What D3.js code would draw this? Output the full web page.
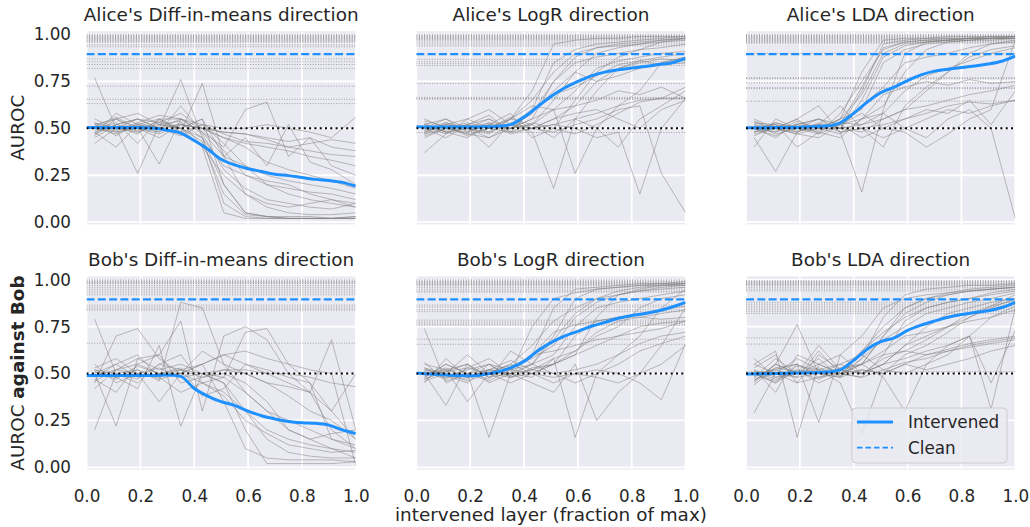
<!DOCTYPE html>
<html>
<head>
<meta charset="utf-8">
<script src="https://cdn.jsdelivr.net/npm/d3@7"></script>
<style>
body{margin:0;background:#fff;}
text{font-family:"DejaVu Sans",sans-serif;fill:#262626;}
</style>
</head>
<body>
<main></main>
<script>
// panel titles, row by row
const titles=["Alice's Diff-in-means direction","Alice's LogR direction","Alice's LDA direction",
              "Bob's Diff-in-means direction","Bob's LogR direction","Bob's LDA direction"];
const xTicks=[0,0.2,0.4,0.6,0.8,1.0];
const yTicks=[0,0.25,0.5,0.75,1.0];
const chance=0.5;
const cleanMean=0.896;

// layer positions (fraction of max) for the single runs and for the mean curve
const runX=[0.03,0.11,0.19,0.27,0.35,0.43,0.51,0.59,0.67,0.75,0.83,0.91,1.0];
const meanX=[0,0.05,0.1,0.15,0.2,0.25,0.3,0.35,0.4,0.45,0.5,0.55,0.6,0.65,0.7,0.75,0.8,0.85,0.9,0.95,1.0];

// Alice, diff-in-means
const aliceDimRuns=[
  [.77,.50,.48,.52,.50,.55,.20,.05,.03,.02,.02,.02,.03],
  [.45,.52,.55,.50,.76,.45,.10,.03,.02,.02,.02,.02,.02],
  [.50,.48,.52,.55,.48,.74,.35,.15,.08,.05,.04,.04,.05],
  [.52,.55,.50,.45,.52,.50,.45,.42,.40,.38,.35,.33,.30],
  [.48,.40,.52,.50,.55,.50,.48,.47,.45,.43,.45,.40,.38],
  [.50,.53,.42,.55,.55,.52,.50,.50,.52,.50,.48,.45,.56],
  [.55,.50,.26,.52,.50,.45,.30,.25,.22,.20,.15,.12,.10],
  [.47,.58,.52,.48,.62,.48,.40,.60,.64,.35,.45,.30,.25],
  [.42,.50,.55,.53,.50,.40,.25,.15,.10,.08,.10,.12,.08],
  [.52,.48,.50,.31,.55,.47,.28,.18,.12,.10,.08,.07,.10],
  [.50,.55,.58,.52,.54,.40,.05,.02,.02,.02,.02,.02,.02],
  [.49,.51,.47,.55,.50,.55,.35,.30,.25,.22,.20,.18,.15],
  [.53,.46,.53,.57,.55,.48,.35,.45,.30,.52,.32,.28,.20],
  [.46,.55,.48,.53,.58,.50,.45,.40,.32,.28,.25,.22,.18],
  [.51,.49,.53,.50,.52,.50,.48,.47,.44,.40,.42,.44,.42],
  [.48,.52,.50,.48,.53,.45,.20,.05,.03,.03,.03,.02,.03],
  [.50,.47,.52,.50,.46,.52,.42,.30,.20,.15,.12,.10,.08],
  [.53,.50,.49,.54,.50,.43,.15,.04,.03,.02,.02,.02,.02],
  [.47,.52,.55,.50,.48,.52,.47,.43,.42,.40,.38,.36,.35],
  [.51,.56,.50,.47,.52,.50,.38,.25,.20,.18,.16,.15,.12]
];
const aliceDimMean=[.505,.505,.505,.505,.505,.50,.49,.475,.435,.39,.335,.305,.285,.27,.255,.248,.238,.228,.222,.212,.192];
const aliceDimClean=[1.0,.995,.99,.985,.98,.975,.97,.965,.96,.945,.935,.87,.855,.84,.82,.725,.655,.632];

// Alice, logistic regression
const aliceLogrRuns=[
  [.52,.48,.50,.47,.55,.70,.95,.97,.98,.98,.99,.99,.99],
  [.45,.50,.53,.50,.48,.60,.85,.92,.95,.96,.97,.98,.99],
  [.37,.47,.52,.55,.50,.52,.65,.80,.90,.93,.95,.96,.97],
  [.50,.55,.48,.52,.58,.45,.50,.65,.80,.88,.92,.96,.98],
  [.48,.52,.55,.60,.52,.58,.75,.85,.88,.90,.92,.93,.95],
  [.55,.50,.47,.45,.52,.48,.18,.55,.70,.82,.86,.88,.90],
  [.50,.45,.52,.50,.55,.62,.60,.26,.50,.62,.70,.85,.88],
  [.47,.53,.50,.55,.48,.50,.55,.58,.60,.55,.50,.60,.65],
  [.53,.48,.45,.52,.50,.55,.60,.62,.65,.70,.68,.72,.66],
  [.49,.52,.50,.40,.53,.50,.52,.50,.45,.48,.15,.50,.66],
  [.51,.47,.55,.50,.56,.50,.48,.52,.55,.60,.62,.26,.05],
  [.46,.50,.48,.53,.50,.58,.70,.80,.75,.78,.82,.85,.88],
  [.52,.55,.50,.48,.52,.50,.55,.62,.75,.82,.85,.87,.86],
  [.50,.49,.52,.57,.48,.53,.50,.47,.52,.58,.64,.66,.72],
  [.54,.51,.47,.50,.55,.65,.80,.90,.93,.94,.95,.97,.98],
  [.48,.52,.50,.45,.50,.52,.45,.55,.50,.40,.55,.62,.70],
  [.50,.53,.49,.52,.50,.55,.75,.88,.93,.95,.96,.97,.98],
  [.47,.50,.52,.48,.55,.52,.60,.70,.82,.86,.88,.90,.91],
  [.52,.48,.50,.53,.47,.50,.52,.55,.58,.62,.65,.66,.66],
  [.49,.51,.46,.50,.52,.60,.68,.72,.78,.84,.86,.84,.85]
];
const aliceLogrMean=[.508,.507,.507,.507,.507,.508,.51,.52,.56,.615,.67,.715,.75,.78,.80,.812,.822,.83,.84,.85,.873];
const aliceLogrClean=[1.0,.995,.99,.985,.98,.975,.97,.96,.95,.94,.868,.855,.845,.835,.74,.665,.66,.655,.478];

// Alice, LDA
const aliceLdaRuns=[
  [.50,.48,.52,.50,.55,.80,.97,.98,.98,.99,.99,.99,.99],
  [.45,.27,.48,.52,.50,.70,.95,.97,.98,.98,.98,.99,.99],
  [.52,.50,.55,.62,.48,.16,.60,.90,.96,.97,.98,.98,.98],
  [.48,.53,.50,.47,.58,.75,.92,.96,.97,.97,.98,.98,.99],
  [.55,.50,.47,.45,.52,.55,.62,.80,.92,.96,.97,.98,.98],
  [.50,.45,.53,.50,.50,.48,.55,.60,.70,.80,.90,.95,.97],
  [.53,.52,.40,.48,.45,.55,.58,.50,.45,.55,.60,.50,.02],
  [.47,.50,.52,.55,.50,.52,.55,.60,.62,.65,.68,.70,.73],
  [.40,.55,.50,.52,.62,.50,.45,.50,.55,.60,.58,.62,.65],
  [.51,.48,.54,.50,.47,.55,.68,.72,.75,.73,.76,.74,.75],
  [.49,.53,.50,.55,.52,.45,.50,.48,.40,.47,.55,.60,.97],
  [.52,.47,.50,.48,.55,.60,.85,.92,.95,.96,.97,.97,.98],
  [.50,.52,.48,.53,.50,.62,.72,.85,.88,.90,.93,.95,.96],
  [.48,.50,.55,.47,.52,.58,.50,.55,.60,.58,.65,.52,.70],
  [.54,.49,.51,.52,.48,.50,.40,.62,.72,.80,.88,.92,.94],
  [.46,.51,.49,.50,.55,.68,.90,.95,.96,.97,.97,.98,.98],
  [.51,.50,.48,.52,.50,.65,.88,.94,.96,.97,.98,.98,.99],
  [.48,.52,.50,.49,.53,.52,.58,.70,.78,.82,.86,.90,.93],
  [.50,.46,.52,.55,.48,.50,.52,.55,.58,.62,.64,.63,.65],
  [.53,.50,.47,.50,.52,.72,.93,.96,.97,.98,.98,.98,.98]
];
const aliceLdaMean=[.503,.503,.504,.505,.506,.508,.512,.53,.58,.64,.69,.72,.755,.785,.805,.815,.825,.833,.843,.858,.885];
const aliceLdaClean=[1.0,.995,.99,.985,.98,.975,.97,.965,.96,.955,.90,.77,.765,.743,.717,.712,.645];

// Bob, diff-in-means
const bobDimRuns=[
  [.79,.50,.45,.55,.60,.45,.40,.30,.20,.15,.12,.10,.08],
  [.20,.50,.52,.46,.88,.85,.55,.40,.30,.20,.15,.10,.05],
  [.45,.70,.74,.58,.50,.55,.60,.55,.50,.45,.40,.30,.15],
  [.50,.22,.58,.60,.78,.30,.70,.75,.68,.50,.40,.20,.10],
  [.52,.48,.42,.65,.22,.50,.45,.20,.02,.02,.02,.02,.03],
  [.48,.55,.60,.48,.52,.55,.35,.10,.05,.04,.04,.04,.03],
  [.42,.52,.58,.52,.55,.50,.48,.72,.74,.55,.45,.15,.10],
  [.55,.45,.50,.35,.50,.62,.55,.50,.45,.43,.40,.68,.20],
  [.50,.55,.48,.50,.50,.45,.48,.40,.30,.25,.20,.15,.12],
  [.47,.40,.55,.60,.45,.48,.50,.45,.35,.20,.15,.18,.20],
  [.52,.50,.47,.55,.52,.50,.52,.52,.50,.50,.48,.45,.43],
  [.53,.58,.50,.48,.40,.45,.38,.25,.18,.12,.10,.08,.09],
  [.46,.52,.55,.50,.53,.38,.42,.55,.52,.48,.45,.30,.50],
  [.51,.48,.52,.47,.50,.55,.60,.62,.58,.55,.52,.50,.01],
  [.49,.52,.50,.53,.48,.50,.45,.30,.15,.08,.06,.05,.05],
  [.51,.47,.54,.50,.52,.48,.52,.50,.45,.38,.30,.25,.15]
];
const bobDimMean=[.49,.49,.49,.49,.49,.49,.493,.485,.42,.38,.35,.33,.30,.275,.258,.245,.238,.235,.225,.20,.18];
const bobDimClean=[1.0,.995,.99,.985,.98,.97,.96,.95,.94,.93,.92,.865,.855,.845,.838,.662];

// Bob, logistic regression
const bobLogrRuns=[
  [.74,.45,.50,.55,.52,.60,.85,.95,.96,.97,.98,.98,.99],
  [.50,.33,.55,.48,.50,.55,.70,.90,.95,.96,.97,.98,.98],
  [.55,.52,.35,.50,.45,.50,.55,.60,.80,.92,.95,.97,.98],
  [.48,.55,.50,.16,.50,.48,.58,.16,.50,.60,.70,.85,.95],
  [.52,.50,.60,.50,.55,.65,.78,.85,.90,.92,.94,.96,.97],
  [.45,.58,.48,.52,.50,.45,.40,.55,.25,.40,.50,.65,.85],
  [.50,.48,.52,.55,.48,.53,.55,.60,.65,.70,.75,.77,.78],
  [.53,.50,.46,.50,.55,.50,.48,.50,.52,.50,.45,.36,.66],
  [.47,.52,.55,.45,.50,.60,.62,.65,.68,.70,.72,.74,.78],
  [.56,.46,.50,.52,.57,.52,.55,.70,.78,.80,.82,.84,.86],
  [.49,.53,.48,.50,.52,.55,.50,.45,.50,.55,.62,.66,.70],
  [.51,.47,.53,.58,.50,.75,.90,.93,.95,.96,.97,.97,.98],
  [.48,.55,.50,.47,.62,.55,.60,.75,.85,.88,.90,.92,.94],
  [.52,.49,.45,.55,.48,.50,.45,.50,.48,.45,.50,.55,.65],
  [.50,.51,.55,.48,.53,.60,.72,.76,.78,.80,.80,.79,.80],
  [.46,.50,.48,.52,.50,.52,.58,.62,.70,.75,.85,.90,.92],
  [.50,.52,.48,.51,.49,.55,.68,.82,.90,.94,.96,.97,.97],
  [.53,.48,.50,.46,.52,.50,.55,.62,.72,.78,.80,.82,.84],
  [.47,.51,.53,.50,.48,.52,.50,.52,.55,.60,.66,.70,.72],
  [.51,.49,.47,.52,.54,.58,.65,.80,.88,.92,.94,.95,.96]
];
const bobLogrMean=[.502,.497,.493,.49,.488,.495,.508,.53,.565,.62,.665,.70,.725,.752,.773,.795,.81,.82,.835,.855,.88];
const bobLogrClean=[1.0,.995,.99,.985,.98,.975,.97,.96,.95,.94,.935,.865,.855,.84,.83,.785,.775,.765,.758,.683,.656];

// Bob, LDA
const bobLdaRuns=[
  [.45,.55,.76,.50,.48,.58,.80,.92,.95,.96,.97,.97,.98],
  [.29,.50,.45,.60,.52,.55,.70,.85,.90,.92,.94,.95,.96],
  [.55,.62,.16,.55,.50,.48,.60,.78,.85,.88,.90,.93,.95],
  [.50,.45,.55,.24,.60,.50,.55,.65,.70,.75,.80,.85,.90],
  [.48,.58,.50,.52,.45,.18,.50,.60,.65,.72,.80,.86,.92],
  [.52,.40,.60,.55,.50,.55,.48,.30,.55,.65,.70,.31,.85],
  [.46,.55,.50,.65,.52,.62,.75,.85,.90,.93,.95,.96,.97],
  [.50,.52,.48,.50,.55,.50,.55,.58,.62,.65,.70,.45,.73],
  [.58,.48,.52,.45,.50,.55,.60,.62,.60,.63,.66,.68,.70],
  [.44,.53,.55,.50,.48,.52,.50,.55,.52,.55,.58,.62,.65],
  [.51,.47,.50,.55,.60,.70,.85,.90,.92,.93,.94,.95,.96],
  [.53,.60,.45,.48,.52,.50,.55,.65,.75,.82,.85,.88,.90],
  [.47,.50,.58,.52,.55,.60,.52,.50,.55,.60,.70,.80,.86],
  [.50,.45,.52,.50,.53,.55,.62,.70,.72,.75,.78,.80,.84],
  [.55,.50,.48,.62,.50,.58,.68,.75,.82,.85,.88,.90,.93],
  [.49,.52,.55,.48,.50,.52,.50,.55,.60,.62,.65,.67,.69],
  [.52,.48,.50,.53,.49,.55,.70,.82,.88,.92,.94,.95,.96],
  [.48,.53,.51,.47,.52,.50,.58,.62,.68,.75,.82,.86,.89],
  [.50,.46,.54,.52,.50,.48,.52,.56,.58,.62,.64,.66,.68],
  [.46,.55,.50,.58,.48,.62,.72,.80,.85,.88,.90,.92,.94]
];
const bobLdaMean=[.497,.499,.50,.502,.503,.505,.508,.52,.57,.63,.67,.69,.73,.758,.78,.80,.815,.825,.835,.852,.88];
const bobLdaClean=[.995,.99,.985,.98,.975,.97,.96,.95,.94,.88,.87,.86,.85,.84,.83,.82,.69,.657,.51];

const panels=[
  {runs:aliceDimRuns,mean:aliceDimMean,clean:aliceDimClean},
  {runs:aliceLogrRuns,mean:aliceLogrMean,clean:aliceLogrClean},
  {runs:aliceLdaRuns,mean:aliceLdaMean,clean:aliceLdaClean},
  {runs:bobDimRuns,mean:bobDimMean,clean:bobDimClean},
  {runs:bobLogrRuns,mean:bobLogrMean,clean:bobLogrClean},
  {runs:bobLdaRuns,mean:bobLdaMean,clean:bobLdaClean}
];

const w=1030;
const h=527;
const colLeft=[86.5,416.3,746];
const rowTop=[31.2,276.4];
const pw=269.3;
const ph=193.2;
const blue="#1E90FF";

const svg=d3.select("main")
            .append("svg")
            .attr("width",w)
            .attr("height",h);

panels.forEach((p,i)=>{
    const row=Math.floor(i/3), col=i%3;
    const x0=colLeft[col], y0=rowTop[row];
    const xScale=d3.scaleLinear().domain([0,1]).range([x0,x0+pw]);
    const yScale=d3.scaleLinear().domain([-0.012,1.018]).range([y0+ph,y0]);
    const g=svg.append("g");
    // background and white grid
    g.append("rect")
     .attr("x",x0).attr("y",y0)
     .attr("width",pw).attr("height",ph)
     .attr("fill","#EAEAF2");
    g.selectAll(".hgrid")
     .data(yTicks).enter().append("line")
     .attr("x1",x0).attr("x2",x0+pw)
     .attr("y1",d=>yScale(d)).attr("y2",d=>yScale(d))
     .attr("stroke","#fff").attr("stroke-width",1.8);
    g.selectAll(".vgrid")
     .data(xTicks).enter().append("line")
     .attr("x1",d=>xScale(d)).attr("x2",d=>xScale(d))
     .attr("y1",y0).attr("y2",y0+ph)
     .attr("stroke","#fff").attr("stroke-width",1.8);

    const clipId="clip"+i;
    svg.append("clipPath").attr("id",clipId)
       .append("rect").attr("x",x0).attr("y",y0).attr("width",pw).attr("height",ph);
    const plot=g.append("g").attr("clip-path",`url(#${clipId})`);

    // single runs
    const runLine=d3.line().x((d,j)=>xScale(runX[j])).y(d=>yScale(d));
    plot.selectAll(".run")
        .data(p.runs).enter().append("path")
        .attr("d",runLine)
        .attr("fill","none")
        .attr("stroke","#808080")
        .attr("stroke-opacity",0.5)
        .attr("stroke-width",1);
    // clean AUROC of each run
    plot.selectAll(".clean")
        .data(p.clean).enter().append("line")
        .attr("x1",x0).attr("x2",x0+pw)
        .attr("y1",d=>yScale(d)).attr("y2",d=>yScale(d))
        .attr("stroke","#8c8c8c")
        .attr("stroke-opacity",0.8)
        .attr("stroke-width",1)
        .attr("stroke-dasharray","1,1.6");
    // mean clean
    plot.append("line")
        .attr("x1",x0).attr("x2",x0+pw)
        .attr("y1",yScale(cleanMean)).attr("y2",yScale(cleanMean))
        .attr("stroke",blue).attr("stroke-width",2.2)
        .attr("stroke-dasharray","8,3.3");
    // mean intervened
    const meanLine=d3.line().x((d,j)=>xScale(meanX[j])).y(d=>yScale(d)).curve(d3.curveMonotoneX);
    plot.append("path")
        .datum(p.mean)
        .attr("d",meanLine)
        .attr("fill","none")
        .attr("stroke",blue)
        .attr("stroke-width",3);
    // chance level
    plot.append("line")
        .attr("x1",x0).attr("x2",x0+pw)
        .attr("y1",yScale(chance)).attr("y2",yScale(chance))
        .attr("stroke","#000").attr("stroke-width",2)
        .attr("stroke-dasharray","2,3.3");

    // title
    svg.append("text")
       .attr("x",x0+pw/2).attr("y",y0-10.3)
       .attr("text-anchor","middle")
       .style("font-size","18.4px")
       .text(titles[i]);

    if(col===0){
        const yAxis=d3.axisLeft(yScale).tickValues(yTicks).tickFormat(d3.format(".2f")).tickSize(0).tickPadding(15.5);
        const ya=svg.append("g").attr("transform",`translate(${x0},0)`).call(yAxis);
        ya.select(".domain").remove();
        ya.selectAll("text").style("font-size","16.8px").attr("fill","#262626");
    }
    if(row===1){
        const xAxis=d3.axisBottom(xScale).tickValues(xTicks).tickFormat(d3.format(".1f")).tickSize(0).tickPadding(20);
        const xa=svg.append("g").attr("transform",`translate(0,${y0+ph})`).call(xAxis);
        xa.select(".domain").remove();
        xa.selectAll("text").style("font-size","16.8px").attr("fill","#262626");
    }
});

// axis labels
svg.append("text")
   .attr("transform",`translate(24,${rowTop[0]+ph/2}) rotate(-90)`)
   .attr("text-anchor","middle")
   .style("font-size","18.4px")
   .text("AUROC");
const yl2=svg.append("text")
   .attr("transform",`translate(24,${rowTop[1]+ph/2}) rotate(-90)`)
   .attr("text-anchor","middle")
   .style("font-size","18.4px");
yl2.append("tspan").text("AUROC ");
yl2.append("tspan").style("font-weight","bold").text("against Bob");
svg.append("text")
   .attr("x",colLeft[1]+pw/2).attr("y",521)
   .attr("text-anchor","middle")
   .style("font-size","18.4px")
   .text("intervened layer (fraction of max)");

// legend
const legendItems=[{label:"Intervened",dash:null,width:3},{label:"Clean",dash:"5.5,3",width:1.8}];
const legend=svg.append("g")
                .attr("id","legend")
                .attr("transform","translate(852,408)");
legend.append("rect")
      .attr("width",155).attr("height",55)
      .attr("rx",4)
      .attr("fill","#EAEAF2").attr("fill-opacity",0.8)
      .attr("stroke","#CCCCCC").attr("stroke-width",1);
legend.selectAll("line")
      .data(legendItems).enter().append("line")
      .attr("x1",5).attr("x2",41)
      .attr("y1",(d,i)=>14+i*25.7).attr("y2",(d,i)=>14+i*25.7)
      .attr("stroke",blue)
      .attr("stroke-width",d=>d.width)
      .attr("stroke-dasharray",d=>d.dash);
legend.selectAll("text")
      .data(legendItems).enter().append("text")
      .attr("x",56)
      .attr("y",(d,i)=>14+i*25.7)
      .attr("dy","0.36em")
      .style("font-size","16.8px")
      .text(d=>d.label);
</script>
</body>
</html>
